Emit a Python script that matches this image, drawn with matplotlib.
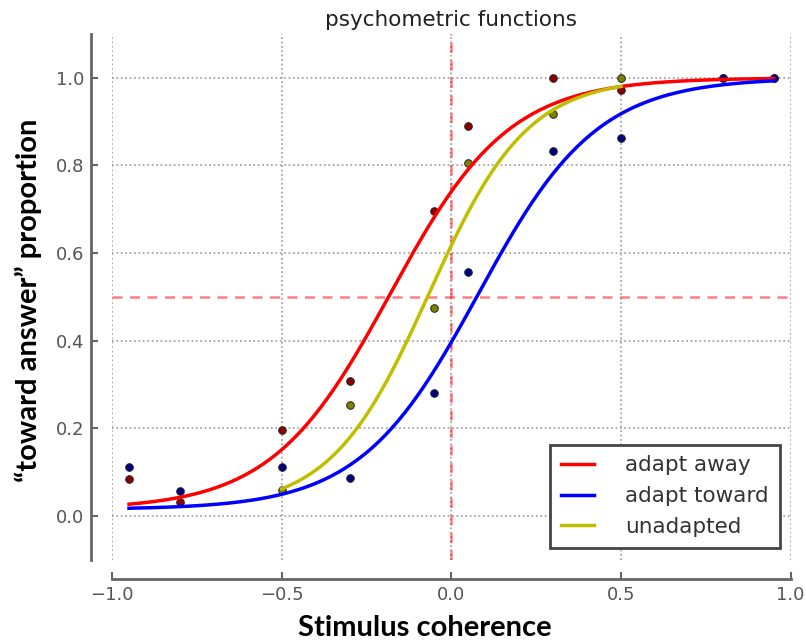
import numpy as np
import matplotlib
matplotlib.use("Agg")
import matplotlib.pyplot as plt

coh = [-0.95, -0.8, -0.5, -0.3, -0.05, 0.05, 0.3, 0.5, 0.8, 0.95]
away = [0.084, 0.032, 0.196, 0.308, 0.696, 0.890, 1.0, 0.973, 1.0, 1.0]
toward = [0.112, 0.057, 0.112, 0.087, 0.281, 0.557, 0.833, 0.863, 1.0, 1.0]
coh_unad = [-0.5, -0.3, -0.05, 0.05, 0.3, 0.5]
unadapted = [0.059, 0.253, 0.475, 0.806, 0.918, 1.0]

# fitted logistic parameters (threshold, slope)
fit_away = (-0.18, 0.175)
fit_toward = (0.08, 0.175)
fit_unad = (-0.066, 0.145)
floor = 0.015


def psy(x, mu, s):
    return floor + (1 - floor) / (1 + np.exp(-(x - mu) / s))


fig = plt.figure(figsize=(8.06, 6.42), dpi=100)
ax = fig.add_axes([0.139, 0.128, 0.842, 0.819])

ax.axhline(0.5, color="red", alpha=0.5, ls=(0, (4, 3)), lw=1.8, zorder=1)
ax.axvline(0.0, color="red", alpha=0.5, ls=(0, (4, 3)), lw=1.8, zorder=1)

ax.scatter(coh, away, s=30, c="#8b0000", edgecolors="#222222", linewidths=0.7, zorder=2)
ax.scatter(coh_unad, unadapted, s=30, c="#808000", edgecolors="#222222", linewidths=0.7, zorder=2)
ax.scatter(coh, toward, s=30, c="#000080", edgecolors="#222222", linewidths=0.7, zorder=2)

xa = np.linspace(min(coh), max(coh), 300)
xu = np.linspace(min(coh_unad), max(coh_unad), 300)
ax.plot(xa, psy(xa, *fit_away), color="red", lw=2.5, label="adapt away", zorder=3)
ax.plot(xa, psy(xa, *fit_toward), color="blue", lw=2.5, label="adapt toward", zorder=3)
ax.plot(xu, psy(xu, *fit_unad), color=(0.75, 0.75, 0), lw=2.5, label="unadapted", zorder=3)

ax.set_xlim(-1, 1)
ax.set_ylim(-0.1, 1.1)
ax.set_xticks([-1.0, -0.5, 0.0, 0.5, 1.0])
ax.set_yticks([0.0, 0.2, 0.4, 0.6, 0.8, 1.0])
ax.grid(True, ls=":", color="#999999", lw=1.2)
ax.set_axisbelow(True)

for side in ["top", "right"]:
    ax.spines[side].set_visible(False)
ax.spines["left"].set_position(("outward", 15))
ax.spines["bottom"].set_position(("outward", 14))
for side in ["left", "bottom"]:
    ax.spines[side].set_color("#666666")
    ax.spines[side].set_linewidth(2)
ax.tick_params(colors="#666666", labelcolor="#555555", labelsize=13,
               direction="in", length=5, width=1.5, pad=5)

ax.set_title("psychometric functions", fontsize=15.5, color="#222222", pad=6)

leg = ax.legend(loc="lower right", fontsize=15.5, fancybox=False, framealpha=1,
                handlelength=1.55, handletextpad=1.45, borderpad=0.5,
                labelspacing=0.5, borderaxespad=0,
                bbox_to_anchor=(0.984, 0.023))
leg.get_frame().set_edgecolor("#444444")
leg.get_frame().set_linewidth(2)
for t in leg.get_texts():
    t.set_color("#333333")

fig.text(0.527, 0.022, "Stimulus coherence", fontsize=21, fontweight="bold",
         family="Lato", ha="center", va="center")
fig.text(0.035, 0.532, "\u201ctoward answer\u201d proportion", fontsize=21,
         fontweight="bold", family="Lato", rotation=90, ha="center", va="center")

fig.savefig("out.png", dpi=100)
